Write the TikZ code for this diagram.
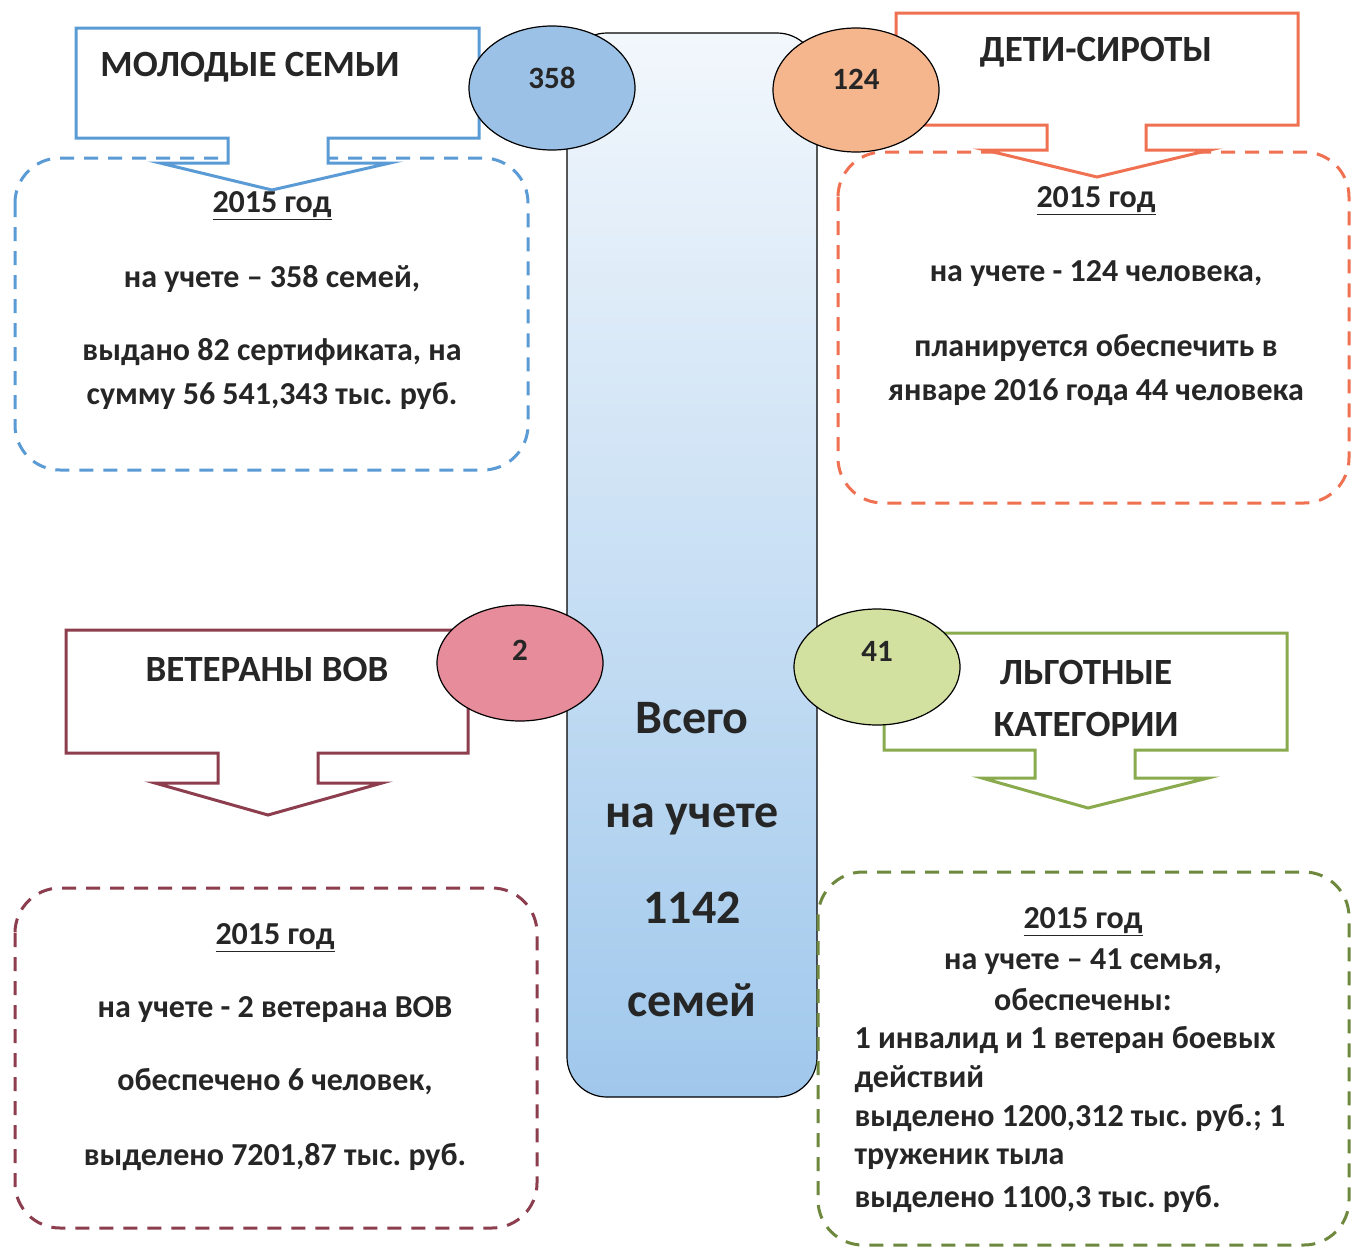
\documentclass[tikz,border=0pt]{standalone}
\usepackage{fontspec}
\setmainfont{Carlito}
\frenchspacing
\usetikzlibrary{shapes.geometric}
\definecolor{cblue}{RGB}{91,155,213}
\definecolor{corange}{RGB}{240,112,82}
\definecolor{cmaroon}{RGB}{140,62,78}
\definecolor{cgreen}{RGB}{138,170,78}
\definecolor{fblue}{RGB}{155,194,230}
\definecolor{forange}{RGB}{245,182,142}
\definecolor{fpink}{RGB}{230,140,155}
\definecolor{fgreen}{RGB}{210,225,160}
\definecolor{coltop}{RGB}{242,247,252}
\definecolor{colbot}{RGB}{160,200,236}
\begin{document}
\begin{tikzpicture}[x=1pt,y=-1pt,
  callout/.style={line width=3pt, fill=white},
  dbox/.style={line width=3pt, dash pattern=on 14pt off 10pt, rounded corners=45pt},
  oval/.style={ellipse, draw=black, line width=1.2pt, minimum width=166pt, minimum height=124pt, inner sep=0pt},
  head/.style={font=\fontsize{37}{44}\selectfont\bfseries, text=black!85, align=center},
  body/.style={font=\fontsize{32}{38}\selectfont\bfseries, text=black!85, align=center},
  num/.style={font=\fontsize{31}{36}\selectfont\bfseries, text=black!85},
  big/.style={font=\fontsize{48}{54}\selectfont\bfseries, text=black!85}]
\useasboundingbox (0,0) rectangle (1351,1248);
\fill[white] (0,0) rectangle (1351,1248);

% central column
\shade[top color=coltop, bottom color=colbot, rounded corners=40pt] (567,33) rectangle (817,1097);
\draw[black, line width=1.2pt, rounded corners=40pt] (567,33) rectangle (817,1097);
\node[big] (t1) at (692,718) {Всего};
\node[big] (t2) at (692,819) {на учете};
\node[big] (t3) at (692,908) {1142};
\node[big] (t4) at (692,1000) {семей};

% dashed boxes
\draw[dbox, cblue] (15,158) rectangle (528,470);
\draw[dbox, corange] (838,152) rectangle (1349,503);
\draw[dbox, cmaroon] (15,888) rectangle (537,1228);
\draw[dbox, cgreen!80!black] (818,872) rectangle (1349,1245);

% callouts
\draw[callout, draw=cblue] (76,28) -- (479,28) -- (479,138) -- (328,138) -- (328,163) -- (390,163) -- (272,190) -- (160,163) -- (228,163) -- (228,138) -- (76,138) -- cycle;
\draw[callout, draw=corange] (896,13) -- (1298,13) -- (1298,125) -- (1146,125) -- (1146,150) -- (1210,150) -- (1097,177) -- (985,150) -- (1047,150) -- (1047,125) -- (896,125) -- cycle;
\draw[callout, draw=cmaroon] (66,630) -- (468,630) -- (468,753) -- (318,753) -- (318,783) -- (382,783) -- (268,815) -- (155,783) -- (218,783) -- (218,753) -- (66,753) -- cycle;
\draw[callout, draw=cgreen] (884,633) -- (1287,633) -- (1287,750) -- (1135,750) -- (1135,778) -- (1208,778) -- (1088,808) -- (982,778) -- (1035,778) -- (1035,750) -- (884,750) -- cycle;

% headings
\node[head] (h1) at (250,67) {МОЛОДЫЕ СЕМЬИ};
\node[head] (h2) at (1096,52) {ДЕТИ-СИРОТЫ};
\node[head] (h3) at (267,669) {ВЕТЕРАНЫ ВОВ};
\node[head] (h4a) at (1086,672) {ЛЬГОТНЫЕ};
\node[head] (h4b) at (1086,724) {КАТЕГОРИИ};

% ellipses
\node[oval, fill=fblue] (e1) at (552,88) {};
\node[num] at (552,78) {358};
\node[oval, fill=forange] (e2) at (856,90) {};
\node[num] at (856,79) {124};
\node[oval, fill=fpink, minimum height=116pt] (e3) at (520,663) {};
\node[num] at (520,650) {2};
\node[oval, fill=fgreen, minimum height=116pt] (e4) at (877,667) {};
\node[num] at (877,651) {41};

% blue texts
\node[body] (b1) at (272,206) {\underline{2015 год}};
\node[body] (b2) at (272,279) {на учете – 358 семей,};
\node[body] (b3) at (272,352) {выдано 82 сертификата, на};
\node[body] (b4) at (272,396) {сумму 56 541,343 тыс. руб.};

% orange texts
\node[body] (o1) at (1096,201) {\underline{2015 год}};
\node[body] (o2) at (1096,274) {на учете - 124 человека,};
\node[body] (o3) at (1096,348) {планируется обеспечить в};
\node[body] (o4) at (1096,392) {январе 2016 года 44 человека};

% maroon texts
\node[body] (m1) at (275,938) {\underline{2015 год}};
\node[body] (m2) at (275,1010) {на учете - 2 ветерана ВОВ};
\node[body] (m3) at (275,1082) {обеспечено 6 человек,};
\node[body] (m4) at (275,1157) {выделено 7201,87 тыс. руб.};

% green texts
\node[body] (g1) at (1083,922) {\underline{2015 год}};
\node[body] (g2) at (1083,962) {на учете – 41 семья,};
\node[body] (g3) at (1083,1000) {обеспечены:};
\node[body, anchor=west] (g4) at (851,1040) {1 инвалид и 1 ветеран боевых};
\node[body, anchor=west] (g5) at (851,1079) {действий};
\node[body, anchor=west] (g6) at (851,1118) {выделено 1200,312 тыс. руб.; 1};
\node[body, anchor=west] (g7) at (851,1159) {труженик тыла};
\node[body, anchor=west] (g8) at (851,1199) {выделено 1100,3 тыс. руб.};
\end{tikzpicture}
\end{document}
